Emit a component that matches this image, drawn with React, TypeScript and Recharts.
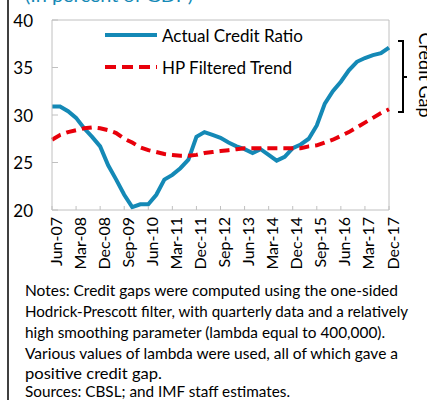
import React from 'react';
import { LineChart, Line, XAxis, YAxis, ReferenceLine, Legend } from 'recharts';

const quarters = [
	'Jun-07', 'Sep-07', 'Dec-07',
	'Mar-08', 'Jun-08', 'Sep-08', 'Dec-08',
	'Mar-09', 'Jun-09', 'Sep-09', 'Dec-09',
	'Mar-10', 'Jun-10', 'Sep-10', 'Dec-10',
	'Mar-11', 'Jun-11', 'Sep-11', 'Dec-11',
	'Mar-12', 'Jun-12', 'Sep-12', 'Dec-12',
	'Mar-13', 'Jun-13', 'Sep-13', 'Dec-13',
	'Mar-14', 'Jun-14', 'Sep-14', 'Dec-14',
	'Mar-15', 'Jun-15', 'Sep-15', 'Dec-15',
	'Mar-16', 'Jun-16', 'Sep-16', 'Dec-16',
	'Mar-17', 'Jun-17', 'Sep-17', 'Dec-17',
];

const actualCredit = [
	30.9, 30.9, 30.4, 29.7, 28.6, 27.7, 26.7, 24.7, 23.2, 21.6,
	20.3, 20.6, 20.6, 21.6, 23.2, 23.7, 24.4, 25.3, 27.7, 28.2,
	27.9, 27.6, 27.1, 26.7, 26.4, 26.0, 26.4, 25.8, 25.2, 25.6,
	26.5, 26.9, 27.5, 28.9, 31.2, 32.5, 33.5, 34.7, 35.6, 36.0,
	36.3, 36.5, 37.1,
];

const hpTrend = [
	27.4, 27.9, 28.2, 28.4, 28.6, 28.7, 28.6, 28.4, 28.1, 27.5,
	27.1, 26.6, 26.3, 26.1, 25.9, 25.8, 25.7, 25.7, 25.8, 26.0,
	26.1, 26.2, 26.3, 26.4, 26.5, 26.5, 26.5, 26.5, 26.5, 26.5,
	26.5, 26.5, 26.7, 26.8, 27.1, 27.4, 27.8, 28.2, 28.7, 29.2,
	29.7, 30.2, 30.6,
];

const yTicks = [20, 25, 30, 35, 40];

const notes = [
	{ text: 'Notes: Credit gaps were computed using the one-sided', len: 373 },
	{ text: 'Hodrick-Prescott filter, with quarterly data and a relatively', len: 383 },
	{ text: 'high smoothing parameter (lambda equal to 400,000).', len: 360 },
	{ text: 'Various values of lambda were used, all of which gave a', len: 373 },
	{ text: 'positive credit gap.', len: 137 },
	{ text: 'Sources: CBSL; and IMF staff estimates.', len: 265 },
];

const BLUE = '#1489b6';
const RED = '#e8000b';
const GRAY = '#c0c0c0';
const FONT = 'Lato, "Open Sans", sans-serif';

const data = quarters.map((q, i) => ({ q, actual: actualCredit[i], trend: hpTrend[i] }));

const XTick = (props: any) => {
	const { x, y, payload } = props;
	const tx = x + 3;
	const ty = y + 7;
	return (
		<g>
			<line x1={x} x2={x} y1={y} y2={y - 4} stroke={GRAY} />
			<text x={tx} y={ty} transform={`rotate(-90, ${tx}, ${ty})`} textAnchor="end" dominantBaseline="central"
				fontSize={16} fill="#000" fontFamily={FONT}>{payload.value}</text>
		</g>
	);
};

const YTick = (props: any) => {
	const { x, y, payload } = props;
	return (
		<g>
			<line x1={x} x2={x + 6} y1={y} y2={y} stroke={GRAY} />
			<text x={x - 19} y={y} textAnchor="end" dominantBaseline="central" fontSize={17} fill="#000"
				fontFamily={FONT}>{payload.value}</text>
		</g>
	);
};

const LegendBox = (props: any) => (
	<div style={{ fontFamily: FONT, fontSize: 17, color: '#000' }}>
		{(props.payload || []).map((p: any) => (
			<div key={p.value} style={{ display: 'flex', alignItems: 'center', height: 32 }}>
				<svg width={58} height={10}>
					<line x1={1} x2={53} y1={5} y2={5} stroke={p.color} strokeWidth={4}
						strokeDasharray={p.dataKey === 'trend' ? '11 6' : undefined} />
				</svg>
				<span style={{ whiteSpace: 'nowrap' }}>{p.value}</span>
			</div>
		))}
	</div>
);

export default function App() {
	return (
		<div style={{ position: 'absolute', left: 0, top: 0, width: 427, height: 400, background: '#fff', overflow: 'hidden' }}>
			<div style={{ position: 'absolute', left: 0, top: 0 }}>
				<LineChart width={427} height={400} data={data} margin={{ top: 20, right: 38, left: 22, bottom: 130 }}>
					<XAxis dataKey="q" interval={2} height={60} tickSize={0} tickMargin={0} tickLine={false}
						axisLine={{ stroke: GRAY }} tick={<XTick />} />
					<YAxis domain={[20, 40]} ticks={yTicks} width={30} tickSize={0} tickMargin={0} tickLine={false}
						axisLine={{ stroke: GRAY }} tick={<YTick />} />
					<ReferenceLine y={40} stroke={GRAY} />
					<ReferenceLine x="Dec-17" stroke={GRAY} />
					<Legend layout="vertical" align="center" verticalAlign="middle" content={<LegendBox />}
						wrapperStyle={{ position: 'absolute', left: 104, top: 19, width: 220, height: 64 }} />
					<Line type="linear" dataKey="actual" name="Actual Credit Ratio" stroke={BLUE} strokeWidth={4}
						dot={false} isAnimationActive={false} />
					<Line type="linear" dataKey="trend" name="HP Filtered Trend" stroke={RED} strokeWidth={4}
						strokeDasharray="10 6" dot={false} isAnimationActive={false} />
				</LineChart>
			</div>
			<svg width={427} height={400} style={{ position: 'absolute', left: 0, top: 0, pointerEvents: 'none' }}>
				<text x={25} y={1.5} fontSize={17} fill={BLUE} fontFamily={FONT} textLength={168}
					lengthAdjust="spacingAndGlyphs">(In percent of GDP)</text>
				<line x1={8} x2={8} y1={0} y2={400} stroke="#000" strokeWidth={1.5} />
				<path d="M398 41 H403 V112 H398 M403 77 H407" fill="none" stroke="#000" strokeWidth={2} />
				<text x={419} y={75} transform="rotate(90, 419, 75)" textAnchor="middle" fontSize={17} fill="#000"
					fontFamily={FONT} textLength={85} lengthAdjust="spacingAndGlyphs">Credit Gap</text>
				{notes.map((n, i) => (
					<text key={i} x={25} y={[296, 317, 338, 359, 379, 397][i]} fontSize={15} fill="#000"
						fontFamily={FONT} textLength={n.len} lengthAdjust="spacingAndGlyphs">{n.text}</text>
				))}
			</svg>
		</div>
	);
}
